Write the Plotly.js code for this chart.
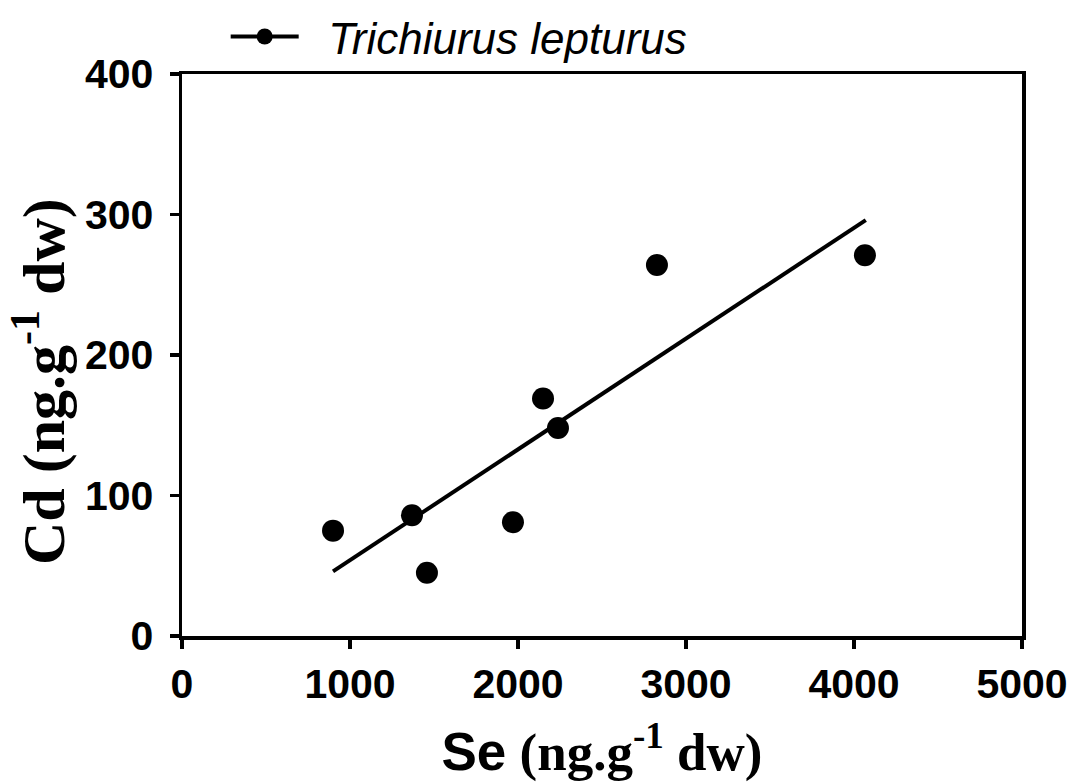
<!DOCTYPE html>
<html>
<head>
<meta charset="utf-8">
<script src="https://cdn.plot.ly/plotly-3.0.1.min.js"></script>
<style>html,body{margin:0;padding:0;background:#fff;}#chart{width:1071px;height:782px;}</style>
</head>
<body>
<div id="chart"></div>
<script>
// Data
const seriesName = 'Trichiurus lepturus';
const seValues = [899, 1369, 1458, 1970, 2149, 2238, 2827, 4065];
const cdValues = [75, 86, 45, 81, 169, 148, 264, 271];
const fitSe = [899, 4070];
const fitCd = [46, 296];
const xTickVals = [0, 1000, 2000, 3000, 4000, 5000];
const yTickVals = [0, 100, 200, 300, 400];
const xTitle = '<span style="font-family:Liberation Sans, Arial, sans-serif">Se</span> (ng.g<sup>-1</sup> dw)';
const yTitle = 'Cd (ng.g<sup>-1</sup> dw)';

const traces = [
  {
    x: seValues, y: cdValues, mode: 'markers', type: 'scatter',
    marker: {color: '#000', size: 22}, showlegend: false, cliponaxis: false
  },
  {
    x: fitSe, y: fitCd, mode: 'lines', type: 'scatter',
    line: {color: '#000', width: 4}, showlegend: false
  },
  {
    x: [null], y: [null], mode: 'lines+markers', type: 'scatter',
    name: '\u00a0\u00a0' + seriesName,
    line: {color: '#000', width: 4}, marker: {color: '#000', size: 22}, showlegend: true
  }
];

const layout = {
  width: 1071, height: 782,
  margin: {l: 182, r: 49, t: 74, b: 146, autoexpand: false},
  paper_bgcolor: '#fff', plot_bgcolor: '#fff',
  showlegend: true,
  legend: {
    x: 0.052, y: 1.066, xanchor: 'left', yanchor: 'middle',
    font: {family: 'Liberation Sans, Arial, sans-serif', size: 44, style: 'italic', color: '#000'},
    bgcolor: 'rgba(0,0,0,0)', itemwidth: 68
  },
  xaxis: {
    range: [0, 5000], tickvals: xTickVals, ticktext: xTickVals.map(String),
    showgrid: false, zeroline: false,
    showline: true, linecolor: '#000', linewidth: 3.5, mirror: true,
    ticks: 'outside', ticklen: 9, tickwidth: 3.5, tickcolor: '#000',
    tickfont: {family: 'Liberation Sans, Arial, sans-serif', size: 41, weight: 'bold', color: '#000'},
    title: {
      text: xTitle,
      font: {family: 'Liberation Serif, Times New Roman, serif', size: 53, weight: 'bold', color: '#000'},
      standoff: 30
    }
  },
  yaxis: {
    range: [0, 400], tickvals: yTickVals, ticktext: yTickVals.map(String),
    showgrid: false, zeroline: false,
    showline: true, linecolor: '#000', linewidth: 3.5, mirror: true,
    ticks: 'outside', ticklen: 9, tickwidth: 3.5, tickcolor: '#000',
    ticklabelstandoff: 8,
    tickfont: {family: 'Liberation Sans, Arial, sans-serif', size: 41, weight: 'bold', color: '#000'}
  },
  annotations: [{
    text: yTitle, xref: 'paper', yref: 'paper',
    x: -0.169, y: 0.452, xanchor: 'center', yanchor: 'middle',
    textangle: -90, showarrow: false,
    font: {family: 'Liberation Serif, Times New Roman, serif', size: 60, weight: 'bold', color: '#000'}
  }]
};

Plotly.newPlot('chart', traces, layout, {displayModeBar: false, staticPlot: true});
</script>
</body>
</html>
